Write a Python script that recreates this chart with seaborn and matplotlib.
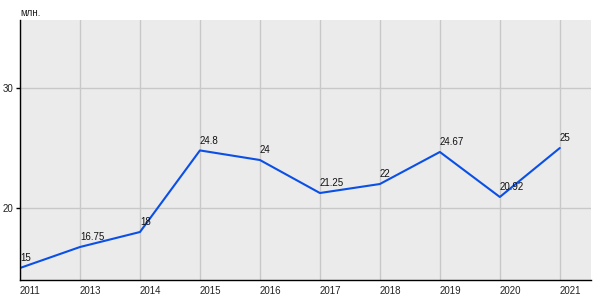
import matplotlib
matplotlib.use("Agg")
import matplotlib.pyplot as plt
import seaborn as sns
import pandas as pd

years = ["2011", "2013", "2014", "2015", "2016", "2017", "2018", "2019", "2020", "2021"]
values = [15, 16.75, 18, 24.8, 24, 21.25, 22, 24.67, 20.92, 25]
labels = ["15", "16.75", "18", "24.8", "24", "21.25", "22", "24.67", "20.92", "25"]
yticks = [20, 30]
unit = "млн."

sns.set_style("white")
plt.rcParams["font.family"] = ["Liberation Sans", "DejaVu Sans"]

df = pd.DataFrame({"idx": range(len(years)), "year": years, "value": values})

fig = plt.figure(figsize=(6, 3), dpi=100)
ax = fig.add_axes([20/600, 20/300, 571/600, 260/300])
ax.set_facecolor("#ebebeb")

sns.lineplot(data=df, x="idx", y="value", ax=ax, color="#0a4fe6", linewidth=1.5)

ax.set_xlim(0, 9.52)
ax.set_ylim(14.0, 35.67)
ax.set_xticks(df["idx"])
ax.set_xticklabels(years, ha="left")
ax.set_yticks(yticks)
ax.set_yticklabels([str(t) for t in yticks])
ax.grid(True, color="#c8c8c8", linewidth=1)
ax.set_axisbelow(True)
ax.tick_params(axis="x", length=0, labelsize=7, pad=4, colors="#222222")
ax.tick_params(axis="y", length=3, width=1, labelsize=7, pad=2, left=True, color="black", labelcolor="#222222")
for s in ["top", "right"]:
    ax.spines[s].set_visible(False)
for s in ["left", "bottom"]:
    ax.spines[s].set_color("black")
    ax.spines[s].set_linewidth(1)
ax.set_xlabel("")
ax.set_ylabel("")

for i, (v, lab) in enumerate(zip(values, labels)):
    ax.annotate(lab, (i, v), xytext=(0, 3.5), textcoords="offset points",
                fontsize=7, ha="left", va="bottom", color="#111111")

fig.text(20/600, 1 - 12.5/300, unit, fontsize=7, ha="left", va="center", color="#222222")

fig.savefig("out.png", dpi=100)
